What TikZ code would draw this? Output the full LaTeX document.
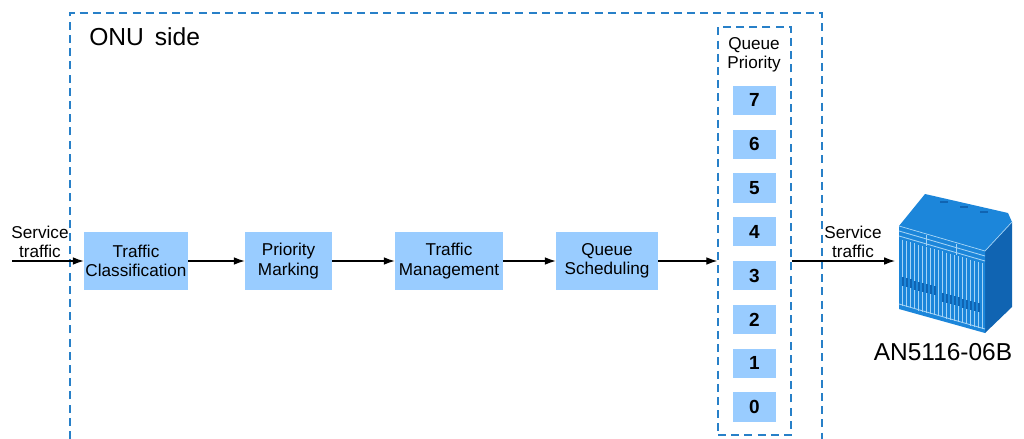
\documentclass[tikz,border=0pt]{standalone}
\usepackage{fontspec}
\setmainfont{Liberation Sans}
\usetikzlibrary{arrows.meta,positioning,calc}
\definecolor{boxblue}{RGB}{153,204,255}
\definecolor{lineblue}{RGB}{40,128,200}
\definecolor{devblue}{RGB}{28,134,218}
\definecolor{devdark}{RGB}{16,100,178}
\definecolor{devlight}{RGB}{165,212,246}

\begin{document}
\begin{tikzpicture}[x=0.025cm,y=-0.025cm,
  block/.style={fill=boxblue,minimum height=1.425cm,align=center,inner sep=0pt,
    font=\fontsize{12.2}{13.8}\selectfont},
  prio/.style={fill=boxblue,minimum width=1.075cm,minimum height=0.725cm,inner sep=0pt,
    font=\fontsize{13.5}{15}\selectfont\bfseries},
  flow/.style={-{Latex[length=0.27cm,width=0.19cm]},line width=0.8pt},
  frame/.style={lineblue,line width=1.1pt,dash pattern=on 0.2cm off 0.13cm},
  txt/.style={align=center,inner sep=0pt,font=\fontsize{12.2}{13.8}\selectfont}]
\useasboundingbox (0,0) rectangle (1024,439);

% ONU frame
\draw[frame] (70,439) -- (70,13) -- (822,13) -- (822,439);
\node[anchor=west,inner sep=0pt,font=\fontsize{17.5}{20}\selectfont] (onu) at (89,37) {ONU\, side};

% processing chain
\node[block,minimum width=2.6cm] (cls) at (136,261) {Traffic\\Classification};
\node[block,minimum width=2.175cm] (mark) at (288.5,261) {Priority\\Marking};
\node[block,minimum width=2.7cm] (mgmt) at (449,261) {Traffic\\Management};
\node[block,minimum width=2.55cm] (sched) at (607,261) {Queue\\Scheduling};

% queues
\node[frame,draw,minimum width=1.825cm,minimum height=10.2cm,inner sep=0pt] (queue) at (754.5,231) {};
\node[txt] (qtitle) at (754,55) {Queue\\Priority};
\foreach \p in {0,...,7}
  \node[prio] (q\p) at (754.5,{407-43.8*\p}) {\p};

% traffic in / out
\coordinate (in) at (12,261);
\coordinate (out) at (895,261);
\node[txt] (inlbl) at (40,242) {Service\\traffic};
\node[txt] (outlbl) at (853,242) {Service\\traffic};

\draw[flow] (in) -- (cls);
\draw[flow] (cls) -- (mark);
\draw[flow] (mark) -- (mgmt);
\draw[flow] (mgmt) -- (sched);
\draw[flow] (sched) -- (sched -| queue.west);
\draw[flow] (sched -| queue.east) -- (out);

% AN5116-06B cabinet
\fill[devblue] (925,194) -- (1008,213) -- (1012,222) -- (985,251) -- (899,226) -- cycle;
\fill[devdark] (985,251) -- (1012,222) -- (1012,307) -- (985,333) -- cycle;
\fill[devblue] (899,226) -- (985,251) -- (985,333) -- (899,309) -- cycle;
\draw[devlight,line width=0.5pt] (899,226) -- (985,251) -- (1012,222);
\draw[devlight,line width=0.6pt] (899,231) -- (985,256);
\draw[devlight,line width=0.6pt] (899,236) -- (985,261);
\foreach \x in {926,956}
  \draw[devlight,line width=0.5pt] (\x,{227+(\x-899)*0.29}) -- (\x,{238+(\x-899)*0.29});
\foreach \x in {902,906,...,982}
  \draw[devlight,line width=0.45pt] (\x,{239+(\x-899)*0.29}) -- (\x,{305+(\x-899)*0.29});
\draw[devlight,line width=0.6pt] (899,304) -- (985,329);
\foreach \x in {903,907,...,935}
  \fill[devdark] ({\x-1},{276+(\x-899)*0.29}) rectangle ++(2,9);
\foreach \x in {943,947,...,979}
  \fill[devdark] ({\x-1},{280+(\x-899)*0.29}) rectangle ++(2,9);
\foreach \x in {940,960,980}
  \fill[devdark] (\x,{198+(\x-925)*0.23}) rectangle ++(8,2);
\node[inner sep=0pt,font=\fontsize{17.4}{20}\selectfont] (olt) at (943,352) {AN5116-06B};
\end{tikzpicture}
\end{document}
